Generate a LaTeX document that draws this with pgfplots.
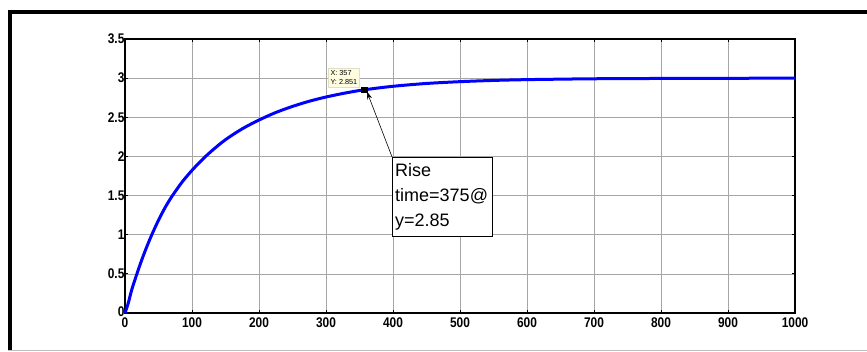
\documentclass[border=0pt]{standalone}
\usepackage{pgfplots}
\pgfplotsset{compat=1.18}
\usetikzlibrary{arrows.meta}
\usepackage{fontspec}
\setmainfont{Liberation Sans}
\begin{document}
\begin{tikzpicture}
\useasboundingbox (-125pt,-38pt) rectangle (742pt,313pt);
\begin{axis}[
  scale only axis,
  width=670pt, height=274pt,
  at={(0,0)}, anchor=south west,
  xmin=0, xmax=1000, ymin=0, ymax=3.5,
  xtick={0,100,...,1000},
  xticklabels={0,100,200,300,400,500,600,700,800,900,1000},
  ytick={0,0.5,...,3.5},
  yticklabels={\raisebox{2.5pt}{0},0.5,1,1.5,2,2.5,3,3.5},
  grid=major,
  major grid style={gray!70, line width=0.5pt},
  axis line style={black, line width=1.2pt},
  tick align=inside,
  major tick length=3pt,
  tick style={black, line width=0.8pt},
  ticklabel style={font=\fontsize{14}{15}\selectfont\bfseries, xscale=0.85, inner sep=0.5pt},
  xticklabel style={yshift=-4pt},
  yticklabel style={xshift=0pt},
  clip=false,
]
\addplot[blue, line width=3pt, smooth] coordinates {
(0,0) (5,0.13) (10,0.295) (17.5,0.494) (25,0.678) (32,0.835) (40,1.0)
(50,1.185) (60,1.349) (70,1.489) (85,1.67) (100,1.822) (115,1.956)
(130,2.075) (150,2.214) (175,2.353) (200,2.465) (225,2.561) (250,2.639)
(275,2.705) (300,2.759) (330,2.812) (357,2.851) (400,2.896) (450,2.932)
(500,2.955) (550,2.971) (600,2.981) (650,2.987) (700,2.992) (800,2.996)
(900,2.998) (1000,3.0)
};
\addplot[only marks, mark=square*, mark size=2.6pt, black] coordinates {(357,2.851)};
\node[draw=yellow!30!gray!40, fill=yellow!12, anchor=south east, align=left,
      inner sep=2pt, font=\fontsize{7.3}{9.5}\selectfont]
      at (axis cs:350,2.885) {X: 357\\Y: 2.851};
\draw[-{Stealth[length=8pt,width=5pt]}, black, line width=0.6pt] (axis cs:398.5,1.995) -- (axis cs:361,2.83);
\draw[black, line width=0.9pt, fill=white] (axis cs:398.5,0.983) rectangle (axis cs:547.8,1.992);
\node[anchor=north west, align=left, inner sep=0pt, font=\fontsize{18}{25}\selectfont]
      at (axis cs:403,1.91) {Rise\\time=375@\\y=2.85};
\end{axis}
\fill[black] (-117pt,299pt) rectangle (742pt,303pt);
\fill[black] (-117pt,-38pt) rectangle (-113pt,303pt);
\draw[gray!50, line width=1pt] (-117pt,-37pt) -- (742pt,-37pt);
\end{tikzpicture}
\end{document}
